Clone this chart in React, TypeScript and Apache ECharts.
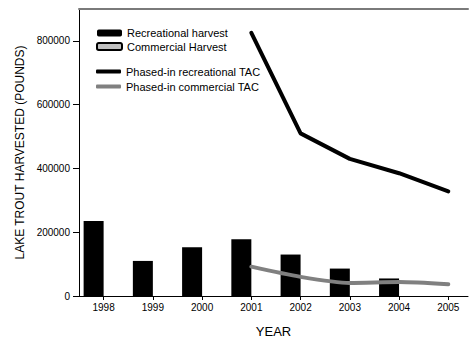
import React, { useEffect, useRef } from "react";
import * as echarts from "echarts";

const years = [1998, 1999, 2000, 2001, 2002, 2003, 2004, 2005];
const recreationalHarvest = [235000, 110000, 153000, 178000, 130000, 86000, 55000, null];
const commercialHarvest = [null, null, null, null, null, null, null, null];
const recreationalTAC = [null, null, null, 825000, 510000, 430000, 385000, 328000];
const commercialTAC = [null, null, null, 92000, 60000, 41000, 44000, 37000];
const yTickValues = [0, 200000, 400000, 600000, 800000];

const FONT = "Liberation Sans, Arial, sans-serif";

const pair = (arr: (number | null)[]) =>
  years.map((y, i) => [y, arr[i] === null ? "-" : arr[i]]);

export default function App() {
  const ref = useRef<HTMLDivElement>(null);
  useEffect(() => {
    document.body.style.margin = "0";
    if (!ref.current) return;
    const chart = echarts.init(ref.current, undefined, { renderer: "svg" });
    chart.setOption({
      animation: false,
      backgroundColor: "#fff",
      textStyle: { fontFamily: FONT },
      grid: { left: 79, right: 1, top: 9, bottom: 44 },
      legend: [
        {
          orient: "vertical",
          left: 96,
          top: 26.5,
          padding: 0,
          itemWidth: 25,
          itemHeight: 7,
          itemGap: 0.5,
          itemTextGap: 5,
          textStyle: { fontSize: 11, color: "#000", fontFamily: FONT, lineHeight: 13 },
          data: ["Recreational harvest", "Commercial Harvest"],
        },
        {
          orient: "vertical",
          left: 96,
          top: 65,
          padding: 0,
          itemWidth: 25,
          itemHeight: 4,
          itemGap: 2,
          itemTextGap: 5,
          icon: "roundRect",
          itemStyle: { borderWidth: 0 },
          textStyle: { fontSize: 11, color: "#000", fontFamily: FONT, lineHeight: 13 },
          data: ["Phased-in recreational TAC", "Phased-in commercial TAC"],
        },
      ],
      xAxis: [
        {
          type: "value",
          min: 1997.5,
          max: 2005.4,
          name: "YEAR",
          nameLocation: "middle",
          nameGap: 29,
          nameTextStyle: { fontSize: 13, color: "#000", fontFamily: FONT },
          splitLine: { show: false },
          axisLine: { show: true, lineStyle: { color: "#000", width: 1 } },
          axisTick: { show: true, length: 4, customValues: years, lineStyle: { color: "#000" } },
          axisLabel: {
            customValues: years,
            fontSize: 10,
            color: "#000",
            margin: 6,
            fontFamily: FONT,
            formatter: (v: number) => String(v),
          },
        },
        {
          type: "value",
          position: "top",
          min: 1997.5,
          max: 2005.4,
          splitLine: { show: false },
          axisLine: { show: true, lineStyle: { color: "#7a7a7a", width: 2 } },
          axisTick: { show: false },
          axisLabel: { show: false },
        },
      ],
      yAxis: {
        type: "value",
        min: 0,
        max: 900000,
        interval: 100000,
        name: "LAKE TROUT HARVESTED (POUNDS)",
        nameLocation: "middle",
        nameGap: 53,
        nameTextStyle: { fontSize: 12, color: "#000", fontFamily: FONT },
        splitLine: { show: false },
        axisLine: { show: true, lineStyle: { color: "#000", width: 1 } },
        axisTick: { show: true, length: 6, customValues: yTickValues, lineStyle: { color: "#000" } },
        axisLabel: {
          customValues: yTickValues,
          fontSize: 10,
          color: "#000",
          margin: 9,
          fontFamily: FONT,
          formatter: (v: number) => String(v),
        },
      },
      series: [
        {
          name: "Recreational harvest",
          type: "bar",
          xAxisIndex: 0,
          barWidth: 20,
          barGap: "0%",
          itemStyle: { color: "#000" },
          data: pair(recreationalHarvest),
        },
        {
          name: "Commercial Harvest",
          type: "bar",
          xAxisIndex: 0,
          barWidth: 20,
          barGap: "0%",
          itemStyle: { color: "#c0c0c0", borderColor: "#000", borderWidth: 1 },
          data: pair(commercialHarvest),
        },
        {
          name: "Phased-in recreational TAC",
          type: "line",
          xAxisIndex: 0,
          symbol: "none",
          color: "#000",
          itemStyle: { color: "#000" },
          lineStyle: { color: "#000", width: 4, cap: "round", join: "round" },
          data: pair(recreationalTAC),
        },
        {
          name: "Phased-in commercial TAC",
          type: "line",
          xAxisIndex: 0,
          symbol: "none",
          smooth: 0.25,
          color: "#808080",
          itemStyle: { color: "#808080" },
          lineStyle: { color: "#808080", width: 4, cap: "round", join: "round" },
          data: pair(commercialTAC),
        },
      ],
    });
    return () => chart.dispose();
  }, []);
  return <div ref={ref} style={{ width: 469, height: 343 }} />;
}
